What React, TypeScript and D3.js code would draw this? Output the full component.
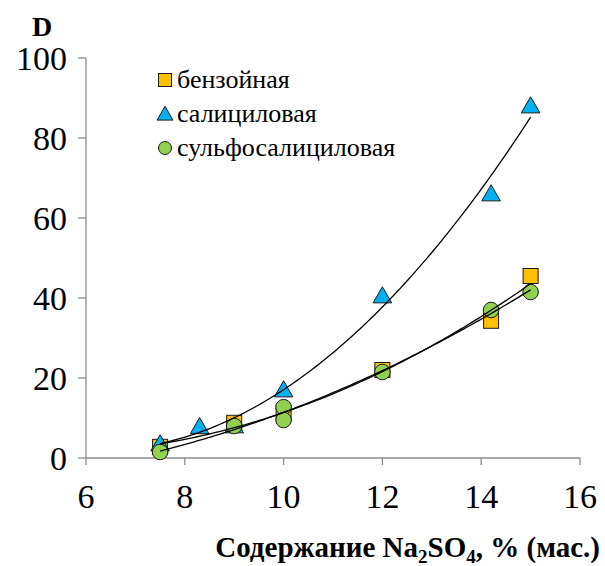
import React from "react";
import * as d3 from "d3";

// Na2SO4 content, % (mass) and extraction ratio D for each acid
const benzoicX = [7.5, 9, 10, 12, 14.2, 15];
const benzoicY = [2.8, 8.8, 11.2, 22, 34.3, 45.5];

const salicylicX = [7.5, 8.3, 9, 10, 12, 14.2, 15];
const salicylicY = [3.5, 7.8, 8, 17, 40.5, 66, 88];

const sulfoX = [7.5, 9, 10, 10, 12, 14.2, 15];
const sulfoY = [1.5, 8, 12.7, 9.5, 21.5, 37, 41.5];

const seriesNames = ["бензойная", "салициловая", "сульфосалициловая"];
const xTicks = [6, 8, 10, 12, 14, 16];
const yTicks = [0, 20, 40, 60, 80, 100];

const W = 605;
const H = 566;

// Least-squares 2nd-order polynomial fit (like a spreadsheet trendline)
function quadFit(xs: number[], ys: number[]): (x: number) => number {
  let s0 = 0, s1 = 0, s2 = 0, s3 = 0, s4 = 0, t0 = 0, t1 = 0, t2 = 0;
  xs.forEach((x, i) => {
    const y = ys[i];
    s0 += 1; s1 += x; s2 += x * x; s3 += x ** 3; s4 += x ** 4;
    t0 += y; t1 += x * y; t2 += x * x * y;
  });
  const M = [
    [s4, s3, s2, t2],
    [s3, s2, s1, t1],
    [s2, s1, s0, t0],
  ];
  for (let c = 0; c < 3; c++) {
    for (let r = c + 1; r < 3; r++) {
      const f = M[r][c] / M[c][c];
      for (let k = c; k < 4; k++) M[r][k] -= f * M[c][k];
    }
  }
  const sol = [0, 0, 0];
  for (let r = 2; r >= 0; r--) {
    let v = M[r][3];
    for (let k = r + 1; k < 3; k++) v -= M[r][k] * sol[k];
    sol[r] = v / M[r][r];
  }
  const [a, b, c] = sol;
  return (x: number) => a * x * x + b * x + c;
}

export default function App() {
  const x = d3.scaleLinear().domain([6, 16]).range([86, 580]);
  const y = d3.scaleLinear().domain([0, 100]).range([458, 58]);

  const trend = (xs: number[], ys: number[]) => {
    const f = quadFit(xs, ys);
    const [lo, hi] = d3.extent(xs) as [number, number];
    const pts = d3.range(0, 101).map((i) => {
      const xv = lo + ((hi - lo) * i) / 100;
      return [xv, f(xv)] as [number, number];
    });
    return d3
      .line<[number, number]>()
      .x((d) => x(d[0]))
      .y((d) => y(d[1]))(pts) as string;
  };

  const axisColor = "#8c8c8c";
  const sq = 15;
  const tri = d3.symbol().type(d3.symbolTriangle).size(150)() as string;

  const square = (cx: number, cy: number, s: number, key: string) => (
    <rect key={key} x={cx - s / 2} y={cy - s / 2} width={s} height={s}
      fill="#FFC000" stroke="#1a1a1a" strokeWidth={1} />
  );
  const triangle = (cx: number, cy: number, key: string, path = tri) => (
    <path key={key} d={path} transform={`translate(${cx},${cy + 1.5})`}
      fill="#00B0F0" stroke="#1a1a1a" strokeWidth={1} />
  );
  const circle = (cx: number, cy: number, r: number, key: string) => (
    <circle key={key} cx={cx} cy={cy} r={r}
      fill="#92D050" stroke="#1a1a1a" strokeWidth={1} />
  );

  const legendRows = [80, 114, 148];
  const legendTri = d3.symbol().type(d3.symbolTriangle).size(110)() as string;

  return (
    <div style={{ position: "absolute", left: 0, top: 0, fontFamily: "Times New Roman" }}>
      <svg width={W} height={H} style={{ display: "block" }}>
        <rect width={W} height={H} fill="#fff" />

        {/* axes */}
        <line x1={x(6)} x2={x(16)} y1={y(0)} y2={y(0)} stroke={axisColor} strokeWidth={1.3} />
        <line x1={x(6)} x2={x(6)} y1={y(0)} y2={y(100)} stroke={axisColor} strokeWidth={1.3} />
        {xTicks.map((t) => (
          <g key={"xt" + t}>
            <line x1={x(t)} x2={x(t)} y1={y(0)} y2={y(0) + 7} stroke={axisColor} strokeWidth={1.3} />
            <text x={x(t)} y={508} textAnchor="middle" fontSize={34}>{t}</text>
          </g>
        ))}
        {yTicks.map((t) => (
          <g key={"yt" + t}>
            <line x1={x(6) - 8} x2={x(6)} y1={y(t)} y2={y(t)} stroke={axisColor} strokeWidth={1.3} />
            <text x={67} y={y(t) + 12} textAnchor="end" fontSize={34}>{t}</text>
          </g>
        ))}

        {/* markers */}
        {benzoicX.map((v, i) => square(x(v), y(benzoicY[i]), sq, "b" + i))}
        {salicylicX.map((v, i) => triangle(x(v), y(salicylicY[i]), "s" + i))}
        {sulfoX.map((v, i) => circle(x(v), y(sulfoY[i]), 7.8, "c" + i))}

        {/* polynomial trendlines */}
        <path d={trend(benzoicX, benzoicY)} fill="none" stroke="#000" strokeWidth={1.3} />
        <path d={trend(salicylicX, salicylicY)} fill="none" stroke="#000" strokeWidth={1.3} />
        <path d={trend(sulfoX, sulfoY)} fill="none" stroke="#000" strokeWidth={1.3} />

        {/* legend */}
        {square(165, legendRows[0], 13, "lg0")}
        {triangle(165, legendRows[1], "lg1", legendTri)}
        {circle(165, legendRows[2], 6.5, "lg2")}
        {seriesNames.map((n, i) => (
          <text key={n} x={177} y={legendRows[i] + 8} fontSize={26}>{n}</text>
        ))}

        {/* axis titles */}
        <text x={42} y={36} textAnchor="middle" fontSize={28} fontWeight="bold">D</text>
        <text x={600} y={557} textAnchor="end" fontSize={29} fontWeight="bold">
          Содержание Na<tspan fontSize={19} dy={6}>2</tspan>
          <tspan dy={-6}>SO</tspan><tspan fontSize={19} dy={6}>4</tspan>
          <tspan dy={-6}>, % (мас.)</tspan>
        </text>
      </svg>
    </div>
  );
}
